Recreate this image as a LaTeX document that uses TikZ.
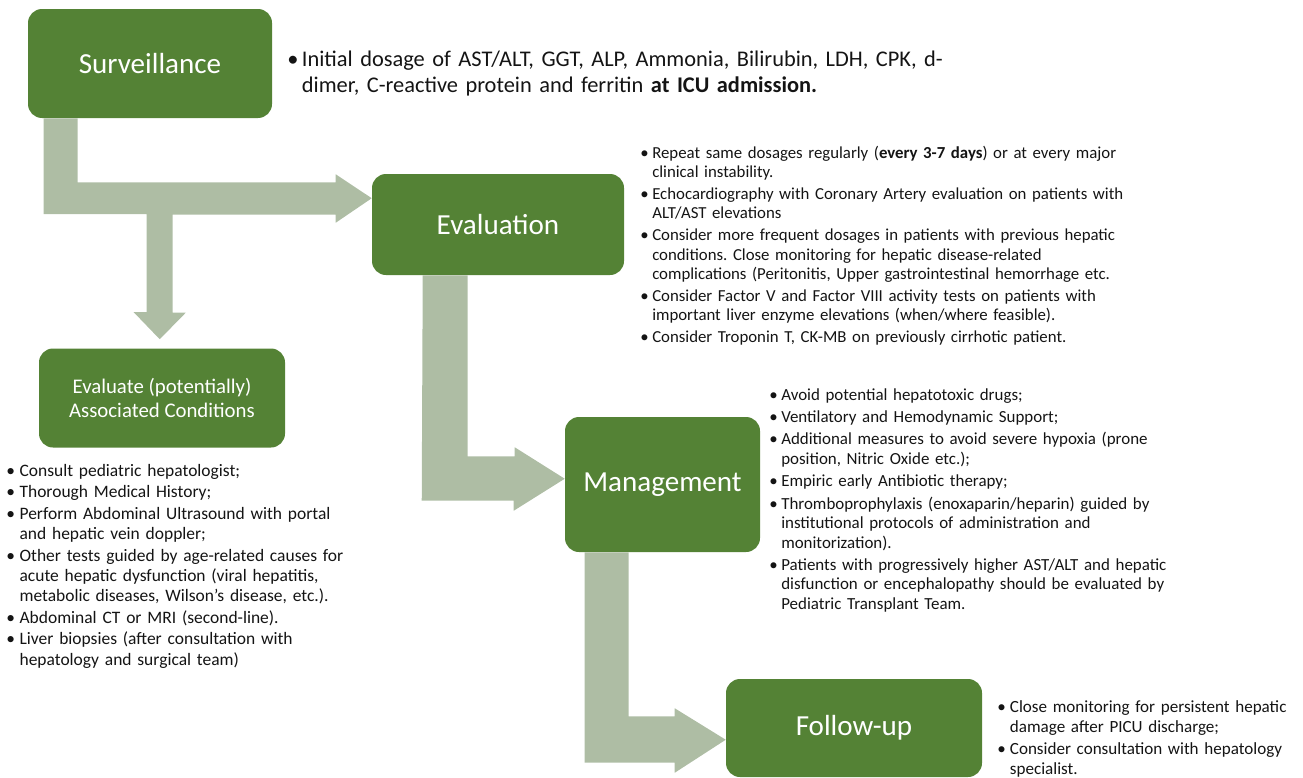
\documentclass[tikz,border=0pt]{standalone}
\usepackage{fontspec}
\setmainfont{Carlito}
\usetikzlibrary{calc}
\definecolor{boxgreen}{RGB}{84,130,53}
\definecolor{arrowsage}{RGB}{174,189,164}
\definecolor{txt}{RGB}{20,20,20}
\def\px{0.75pt}
\newcommand{\bul}[2]{\hangindent=#1\hangafter=1\noindent\makebox[#1][l]{•}#2\par}
\tikzset{
  stage/.style={fill=boxgreen, rounded corners=10.5pt, text=white, inner sep=0pt, align=center,
    font=\fontsize{21.8}{26}\selectfont},
  blockarrow/.style={fill=arrowsage, draw=none},
  blist/.style={anchor=base west, inner sep=0pt, text width=#1, align=left, text=txt},
}
\begin{document}
\frenchspacing
\begin{tikzpicture}[x=0.75pt,y=-0.75pt]
\useasboundingbox (0,0) rectangle (1303,778);
% stage boxes
\node[stage, minimum width=244*\px, minimum height=109*\px] (surv) at (150,63.5) {Surveillance};
\node[stage, minimum width=252*\px, minimum height=101*\px] (eval) at (498,224.5) {Evaluation};
\node[stage, minimum width=195*\px, minimum height=135*\px] (mgmt) at (662.5,484.5) {Management};
\node[stage, minimum width=256*\px, minimum height=98*\px] (fu) at (854,728) {Follow-up};
\node[stage, minimum width=246*\px, minimum height=99*\px, font=\fontsize{15.6}{18.2}\selectfont] (assoc) at (162,398) {Evaluate (potentially)\\Associated Conditions};
% block arrows
\fill[blockarrow] ($(surv.south west)+(16,0)$) -- ++(34,0) -- ++(0,64) -- ++(258,0) -- ++(0,-8)
  -- ($(eval.north west)+(0,24.5)$) -- ++(-36,24.5) -- ++(0,-8) -- ++(-163,0) -- ++(0,98)
  -- ++(13,0) -- ($(assoc.north west)+(121,-9)$) -- ++(-26,-27) -- ++(13,0) -- ++(0,-98)
  -- ++(-103,0) -- cycle;
\fill[blockarrow] ($(eval.south west)+(51,0)$) -- ++(45,0) -- ++(0,181) -- ++(47,0) -- ++(0,-9)
  -- ($(mgmt.north west)+(0,62)$) -- ++(-51,32) -- ++(0,-10) -- ++(-92,0) -- cycle;
\fill[blockarrow] ($(mgmt.south west)+(20,0)$) -- ++(44,0) -- ++(0,164) -- ++(46,0) -- ++(0,-8)
  -- ($(fu.north west)+(0,61)$) -- ++(-51,33) -- ++(0,-10) -- ++(-90,0) -- cycle;
% texts
\node[blist=760*\px, font=\fontsize{16.8}{19.5}\selectfont] (survtxt) at (287,66) {%
\bul{11pt}{Initial dosage of AST/ALT, GGT, ALP, Ammonia, Bilirubin, LDH, CPK, d-\newline dimer, C-reactive protein and ferritin \textbf{at ICU admission.}}};
\node[blist=600*\px, font=\fontsize{12.6}{14.5}\selectfont] (evaltxt) at (640,158) {\setlength{\parskip}{2pt}%
\bul{9pt}{Repeat same dosages regularly (\textbf{every 3-7 days}) or at every major\newline clinical instability.}
\bul{9pt}{Echocardiography with Coronary Artery evaluation on patients with\newline ALT/AST elevations}
\bul{9pt}{Consider more frequent dosages in patients with previous hepatic\newline conditions. Close monitoring for hepatic disease-related\newline complications (Peritonitis, Upper gastrointestinal hemorrhage etc.}
\bul{9pt}{Consider Factor V and Factor VIII activity tests on patients with\newline important liver enzyme elevations (when/where feasible).}
\bul{9pt}{Consider Troponin T, CK-MB on previously cirrhotic patient.}};
\node[blist=520*\px, font=\fontsize{12.7}{14.6}\selectfont] (mgmttxt) at (769,400) {\setlength{\parskip}{2.2pt}%
\bul{9pt}{Avoid potential hepatotoxic drugs;}
\bul{9pt}{Ventilatory and Hemodynamic Support;}
\bul{9pt}{Additional measures to avoid severe hypoxia (prone\newline position, Nitric Oxide etc.);}
\bul{9pt}{Empiric early Antibiotic therapy;}
\bul{9pt}{Thromboprophylaxis (enoxaparin/heparin) guided by\newline institutional protocols of administration and\newline monitorization).}
\bul{9pt}{Patients with progressively higher AST/ALT and hepatic\newline disfunction or encephalopathy should be evaluated by\newline Pediatric Transplant Team.}};
\node[blist=420*\px, font=\fontsize{13.1}{15.2}\selectfont] (assoctxt) at (6,476) {\setlength{\parskip}{1pt}%
\bul{10pt}{Consult pediatric hepatologist;}
\bul{10pt}{Thorough Medical History;}
\bul{10pt}{Perform Abdominal Ultrasound with portal\newline and hepatic vein doppler;}
\bul{10pt}{Other tests guided by age-related causes for\newline acute hepatic dysfunction (viral hepatitis,\newline metabolic diseases, Wilson’s disease, etc.).}
\bul{10pt}{Abdominal CT or MRI (second-line).}
\bul{10pt}{Liver biopsies (after consultation with\newline hepatology and surgical team)}};
\node[blist=300*\px, font=\fontsize{12.8}{15}\selectfont] (futxt) at (997,712) {\setlength{\parskip}{2pt}%
\bul{9.5pt}{Close monitoring for persistent hepatic\newline damage after PICU discharge;}
\bul{9.5pt}{Consider consultation with hepatology\newline specialist.}};
\end{tikzpicture}
\end{document}
